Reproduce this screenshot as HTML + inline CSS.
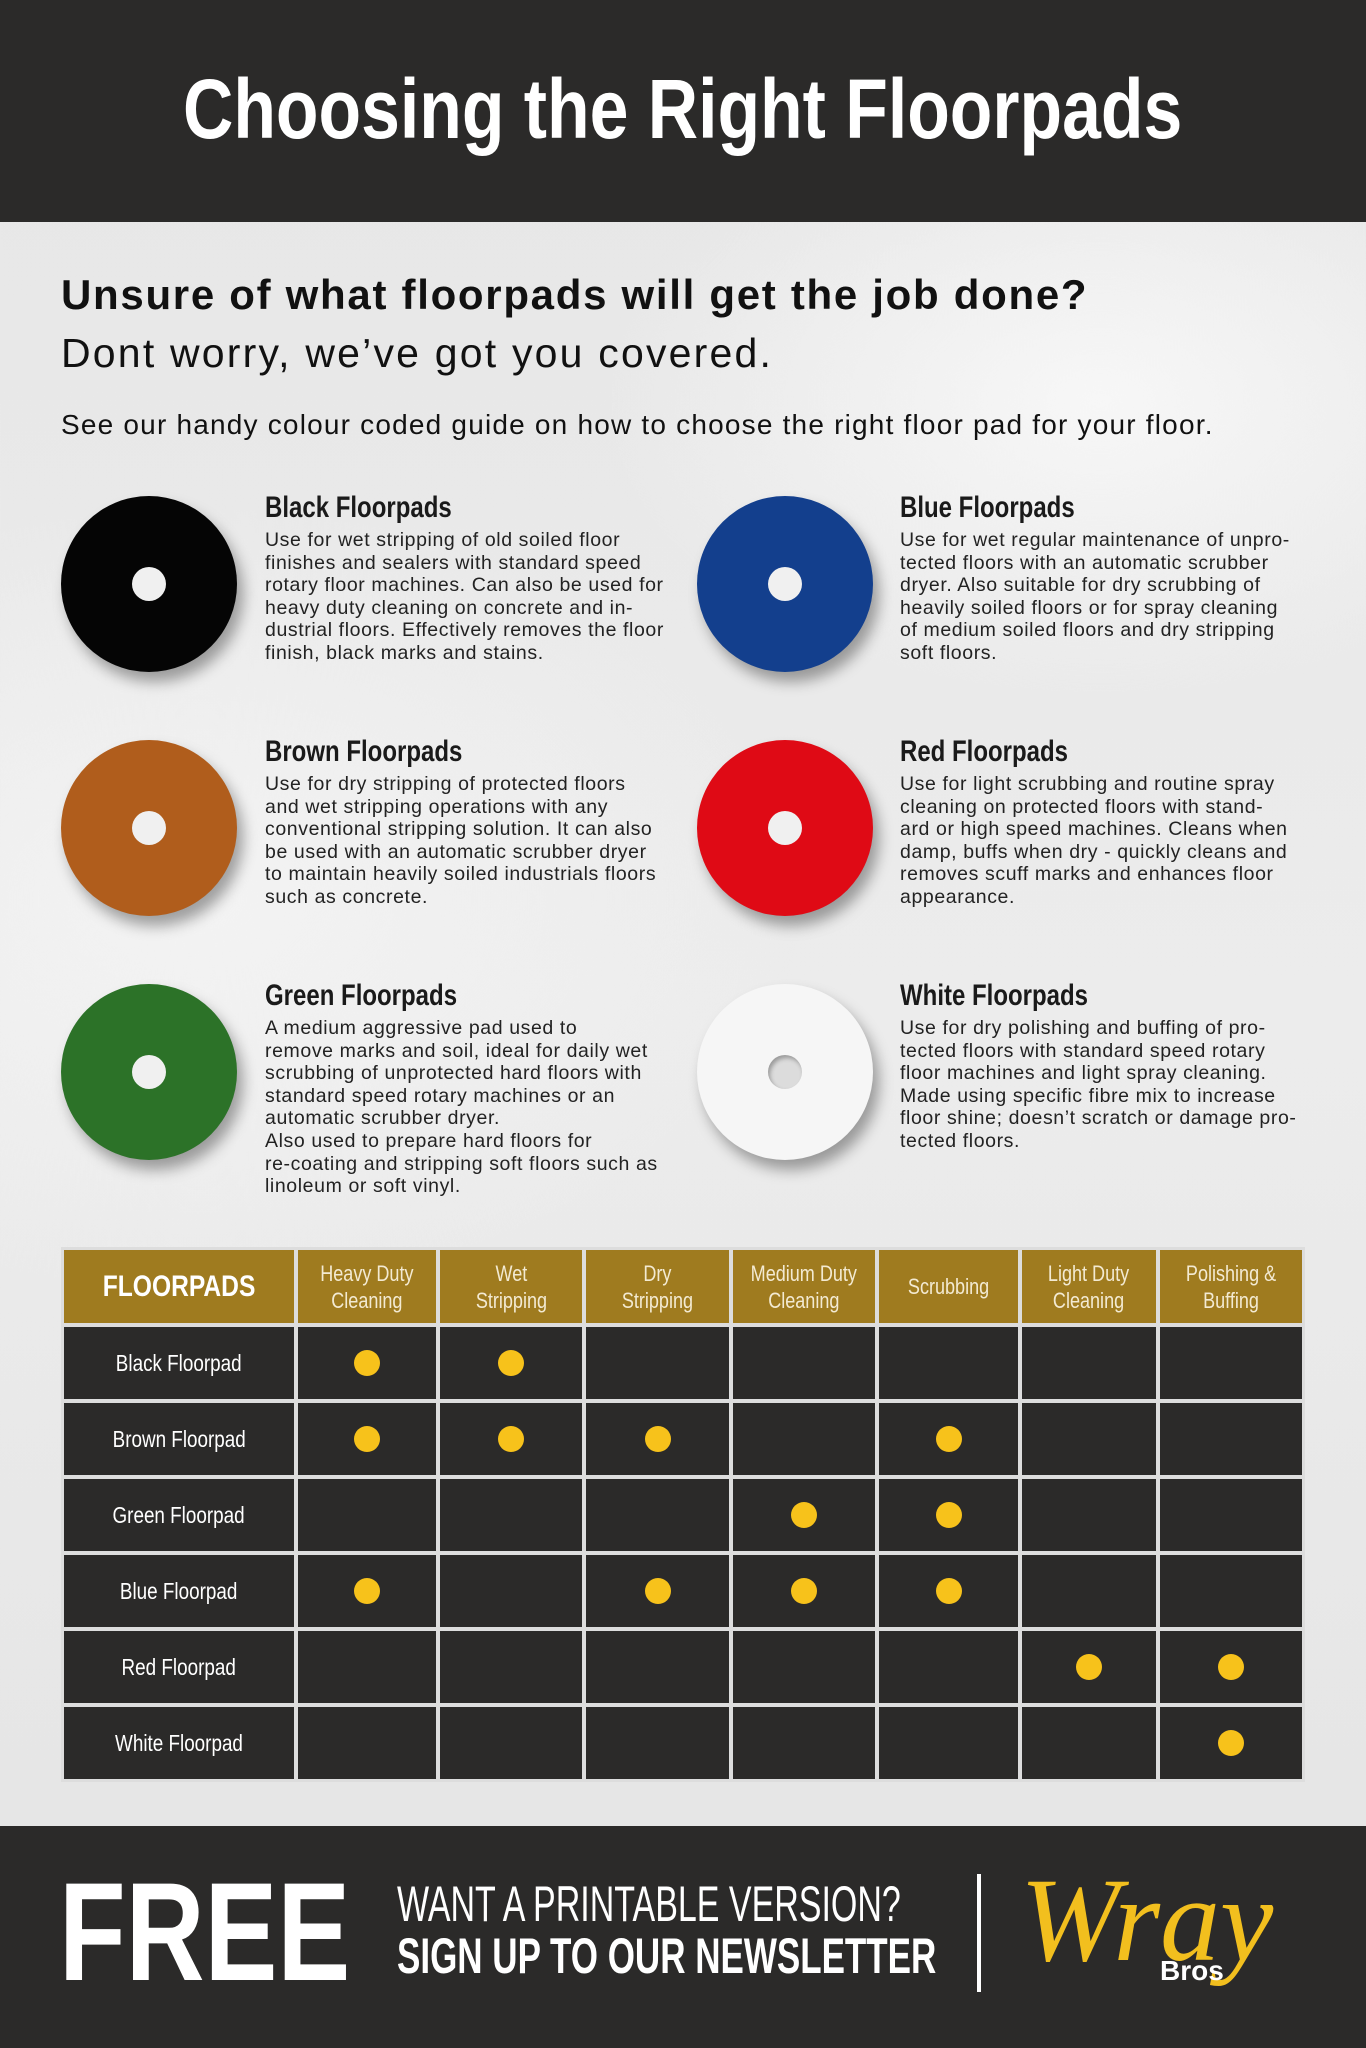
<!DOCTYPE html>
<html><head><meta charset="utf-8"><style>
*{margin:0;padding:0;box-sizing:border-box}
body{width:1366px;height:2048px;position:relative;overflow:hidden;font-family:"Liberation Sans",sans-serif;
background:radial-gradient(ellipse 500px 300px at 1100px 400px,#f7f7f7,transparent),radial-gradient(ellipse 600px 400px at 200px 900px,#f3f3f3,transparent),linear-gradient(#e6e6e6,#ececec 50%,#e4e4e4);}
.abs{position:absolute;white-space:nowrap}
.hdr{position:absolute;left:0;top:0;width:1366px;height:222px;background:#2b2a29}
.cond{display:inline-block;transform-origin:0 0}
.c{position:absolute;border-radius:50%;width:176px;height:176px;box-shadow:6px 10px 14px rgba(0,0,0,.35)}
.c::after{content:"";position:absolute;left:71px;top:71px;width:34px;height:34px;border-radius:50%;background:#f0f0f0}
.c.w::after{background:#dcdcdc;box-shadow:inset 2px 3px 4px rgba(0,0,0,.3)}
.t{position:absolute;font-weight:bold;font-size:30px;color:#1a1a1a;white-space:nowrap;transform:scaleX(.8);transform-origin:0 0}
.p{position:absolute;font-size:19.5px;letter-spacing:.6px;line-height:22.6px;color:#222;white-space:nowrap}
.tbl{position:absolute;left:64px;top:1250px;display:grid;grid-template-columns:230px 138px 142px 143px 142px 139px 134px 142px;grid-template-rows:73px repeat(6,72px);gap:4px;background:#ddd;outline:3px solid #ddd}
.tbl div{display:flex;align-items:center;justify-content:center;text-align:center;color:#fff}
.h{background:#9f7b1f;font-size:22px;line-height:27px;color:#f3ead2!important}
.h span,.r span{display:inline-block;transform:scaleX(.82)}
.r{background:#2b2a29;font-size:23px}
.d{background:#2b2a29}
.y::after{content:"";width:26px;height:26px;border-radius:50%;background:#f7c21b}
.ftr{position:absolute;left:0;top:1826px;width:1366px;height:222px;background:#2b2a29}
</style></head><body>
<div class="hdr"></div>
<div class="abs" style="left:183px;top:64px;font-size:84px;font-weight:bold;color:#fff;line-height:90px"><span class="cond" style="transform:scaleX(.83)">Choosing the Right Floorpads</span></div>

<div class="abs" style="left:61px;top:271px;font-size:42px;font-weight:bold;color:#111;letter-spacing:1.7px">Unsure of what floorpads will get the job done?</div>
<div class="abs" style="left:61px;top:330px;font-size:41px;color:#111;letter-spacing:2.2px">Dont worry, we’ve got you covered.</div>
<div class="abs" style="left:61px;top:409px;font-size:28px;color:#111;letter-spacing:1.2px">See our handy colour coded guide on how to choose the right floor pad for your floor.</div>

<div class="c" style="left:61px;top:496px;background:#050505"></div>
<div class="c" style="left:697px;top:496px;background:#133f8d"></div>
<div class="c" style="left:61px;top:740px;background:#b05d1c"></div>
<div class="c" style="left:697px;top:740px;background:#df0a15"></div>
<div class="c" style="left:61px;top:984px;background:#2c7228"></div>
<div class="c w" style="left:697px;top:984px;background:#f6f6f6"></div>

<div class="t" style="left:265px;top:491px">Black Floorpads</div>
<div class="p" style="left:265px;top:529px">Use for wet stripping of old soiled floor<br>finishes and sealers with standard speed<br>rotary floor machines. Can also be used for<br>heavy duty cleaning on concrete and in-<br>dustrial floors. Effectively removes the floor<br>finish, black marks and stains.</div>
<div class="t" style="left:900px;top:491px">Blue Floorpads</div>
<div class="p" style="left:900px;top:529px">Use for wet regular maintenance of unpro-<br>tected floors with an automatic scrubber<br>dryer. Also suitable for dry scrubbing of<br>heavily soiled floors or for spray cleaning<br>of medium soiled floors and dry stripping<br>soft floors.</div>
<div class="t" style="left:265px;top:735px">Brown Floorpads</div>
<div class="p" style="left:265px;top:773px">Use for dry stripping of protected floors<br>and wet stripping operations with any<br>conventional stripping solution. It can also<br>be used with an automatic scrubber dryer<br>to maintain heavily soiled industrials floors<br>such as concrete.</div>
<div class="t" style="left:900px;top:735px">Red Floorpads</div>
<div class="p" style="left:900px;top:773px">Use for light scrubbing and routine spray<br>cleaning on protected floors with stand-<br>ard or high speed machines. Cleans when<br>damp, buffs when dry - quickly cleans and<br>removes scuff marks and enhances floor<br>appearance.</div>
<div class="t" style="left:265px;top:979px">Green Floorpads</div>
<div class="p" style="left:265px;top:1017px">A medium aggressive pad used to<br>remove marks and soil, ideal for daily wet<br>scrubbing of unprotected hard floors with<br>standard speed rotary machines or an<br>automatic scrubber dryer.<br>Also used to prepare hard floors for<br>re-coating and stripping soft floors such as<br>linoleum or soft vinyl.</div>
<div class="t" style="left:900px;top:979px">White Floorpads</div>
<div class="p" style="left:900px;top:1017px">Use for dry polishing and buffing of pro-<br>tected floors with standard speed rotary<br>floor machines and light spray cleaning.<br>Made using specific fibre mix to increase<br>floor shine; doesn’t scratch or damage pro-<br>tected floors.</div>

<div class="tbl">
<div class="h" style="font-size:30px;font-weight:bold;color:#fff!important"><span>FLOORPADS</span></div>
<div class="h"><span>Heavy Duty<br>Cleaning</span></div><div class="h"><span>Wet<br>Stripping</span></div><div class="h"><span>Dry<br>Stripping</span></div><div class="h"><span>Medium Duty<br>Cleaning</span></div><div class="h"><span>Scrubbing</span></div><div class="h"><span>Light Duty<br>Cleaning</span></div><div class="h"><span>Polishing &amp;<br>Buffing</span></div>
<div class="r"><span>Black Floorpad</span></div><div class="d y"></div><div class="d y"></div><div class="d"></div><div class="d"></div><div class="d"></div><div class="d"></div><div class="d"></div>
<div class="r"><span>Brown Floorpad</span></div><div class="d y"></div><div class="d y"></div><div class="d y"></div><div class="d"></div><div class="d y"></div><div class="d"></div><div class="d"></div>
<div class="r"><span>Green Floorpad</span></div><div class="d"></div><div class="d"></div><div class="d"></div><div class="d y"></div><div class="d y"></div><div class="d"></div><div class="d"></div>
<div class="r"><span>Blue Floorpad</span></div><div class="d y"></div><div class="d"></div><div class="d y"></div><div class="d y"></div><div class="d y"></div><div class="d"></div><div class="d"></div>
<div class="r"><span>Red Floorpad</span></div><div class="d"></div><div class="d"></div><div class="d"></div><div class="d"></div><div class="d"></div><div class="d y"></div><div class="d y"></div>
<div class="r"><span>White Floorpad</span></div><div class="d"></div><div class="d"></div><div class="d"></div><div class="d"></div><div class="d"></div><div class="d"></div><div class="d y"></div>
</div>

<div class="ftr"></div>
<div class="abs" style="left:59px;top:1862px;font-size:140px;font-weight:bold;color:#fff;line-height:140px"><span class="cond" style="transform:scaleX(.78)">FREE</span></div>
<div class="abs" style="left:397px;top:1876px;font-size:50px;color:#fff;line-height:56px"><span class="cond" style="transform:scaleX(.68)">WANT A PRINTABLE VERSION?</span></div>
<div class="abs" style="left:397px;top:1928px;font-size:50px;font-weight:bold;color:#fff;line-height:56px"><span class="cond" style="transform:scaleX(.70)">SIGN UP TO OUR NEWSLETTER</span></div>
<div class="abs" style="left:977px;top:1874px;width:4px;height:118px;background:#fff"></div>
<div class="abs" style="left:1020px;top:1855px;font-family:'Liberation Serif',serif;font-style:italic;font-size:120px;color:#f2bf1e;line-height:130px">Wray</div>
<div class="abs" style="left:1160px;top:1955px;font-size:28px;font-weight:bold;color:#fff">Bros</div>
</body></html>
